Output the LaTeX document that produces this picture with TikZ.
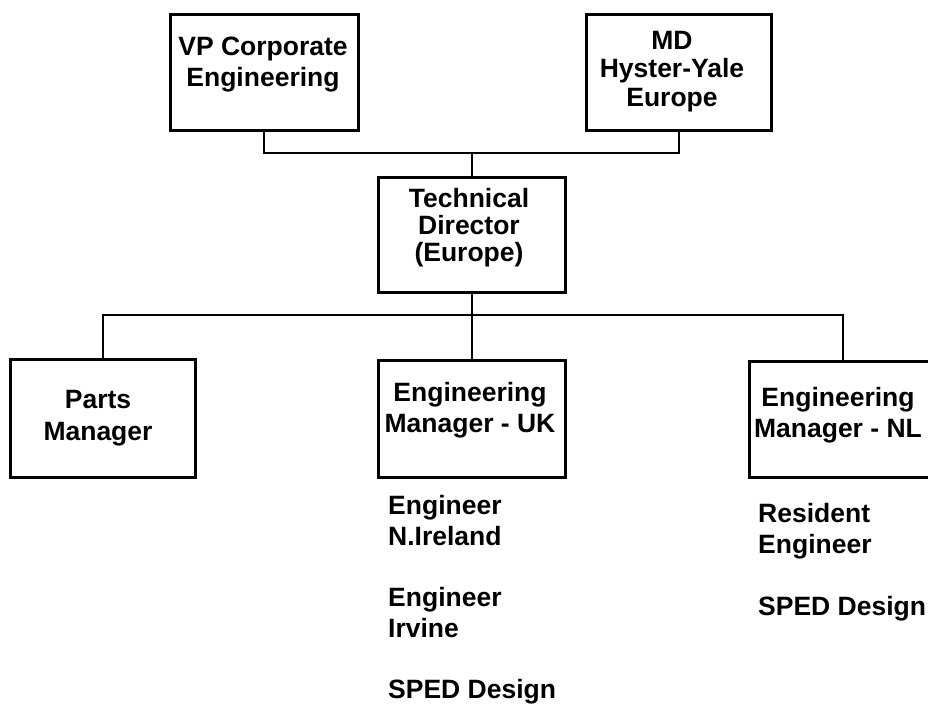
\documentclass[tikz,border=0pt]{standalone}
\usepackage{fontspec}
\setmainfont{Liberation Sans}
\begin{document}
\begin{tikzpicture}[x=1pt,y=-1pt,
  box/.style={draw=black,line width=3pt,rectangle,inner sep=0pt},
  conn/.style={draw=black,line width=2pt},
  lbl/.style={inner sep=0pt,align=center,anchor=north,font=\bfseries\fontsize{26.5}{#1}\selectfont},
  lbl/.default=31,
  lst/.style={inner sep=0pt,align=left,anchor=north west,font=\bfseries\fontsize{26.5}{#1}\selectfont},
  lst/.default=30.7]
\useasboundingbox[fill=white] (0,0) rectangle (928,704);

% boxes
\node[box,minimum width=188pt,minimum height=116pt] (vp) at (264,72) {};
\node[box,minimum width=185pt,minimum height=116pt] (md) at (678.5,72) {};
\node[box,minimum width=187pt,minimum height=115pt] (td) at (471.5,234.5) {};
\node[box,minimum width=185pt,minimum height=118pt] (parts) at (102.5,418) {};
\node[box,minimum width=187pt,minimum height=117pt] (uk) at (471.5,418.5) {};
\node[box,minimum width=187pt,minimum height=116pt] (nl) at (842.5,419) {};

% box texts
\node[lbl] (vpt) at (263,37) {VP Corporate\\Engineering};
\node[lbl=28.5] (mdt) at (672,31) {MD\\Hyster-Yale\\Europe};
\node[lbl=27] (tdt) at (469,188) {Technical\\Director\\(Europe)};
\node[lbl=32] (partst) at (98,390) {Parts\\Manager};
\node[lbl=31.5] (ukt) at (470,382) {Engineering\\Manager - UK};
\node[lbl=31] (nlt) at (838,387) {Engineering\\Manager - NL};

% lists
\node[lst] (uklist) at (388,495) {Engineer\\N.Ireland\\[30.7pt]Engineer\\Irvine\\[30.7pt]SPED Design};
\node[lst=31] (nllist) at (758,503) {Resident\\Engineer\\[31pt]SPED Design};

% connectors
\coordinate (bus1) at (471.5,153);
\coordinate (bus2) at (471.5,315);
\draw[conn] (vp.south) -- (vp.south |- bus1) -- (md.south |- bus1) -- (md.south);
\draw[conn] (bus1) -- (td.north);
\draw[conn] (parts.north) -- (parts.north |- bus2) -- (nl.north |- bus2) -- (nl.north);
\draw[conn] (td.south) -- (uk.north);
\end{tikzpicture}
\end{document}
